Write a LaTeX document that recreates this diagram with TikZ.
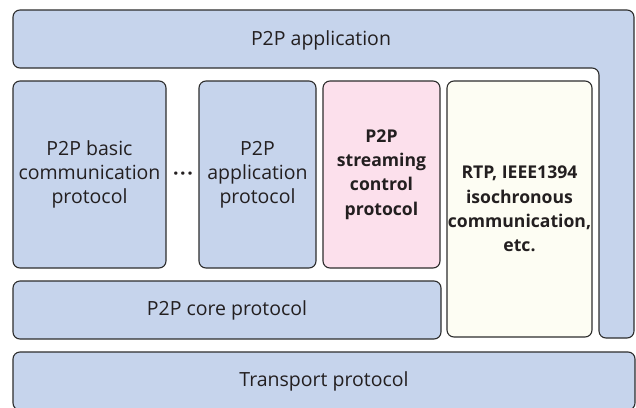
\documentclass[tikz,border=0pt]{standalone}
\usepackage{fontspec}
\setmainfont{Open Sans}
\usetikzlibrary{positioning}
\definecolor{layerblue}{RGB}{198,212,236}
\definecolor{layerpink}{RGB}{252,224,236}
\definecolor{layercream}{RGB}{253,253,243}
\definecolor{edgegray}{RGB}{45,45,45}
\definecolor{textgray}{RGB}{35,31,32}
\begin{document}
\begin{tikzpicture}[x=1pt, y=-1pt,
        layer/.style = {draw=edgegray, line width=1.1pt, rounded corners=7pt,
                        fill=layerblue, inner sep=0pt, align=center,
                        text=textgray, font=\fontsize{19.5}{24}\selectfont},
        label/.style = {inner sep=0pt, align=center, text=textgray,
                        font=\fontsize{19.5}{24}\selectfont},
        strong/.style = {font=\fontsize{17.6}{24.4}\selectfont\bfseries}
    ]
    \useasboundingbox (0,0) rectangle (636,407);
    \clip (0,0) rectangle (636,407);
    % application layer wraps round the protocols
    \draw[draw=edgegray, line width=1.1pt, rounded corners=7pt, fill=layerblue]
        (13,10) -- (634,10) -- (634,338) -- (599,338) -- (599,68) -- (13,68) -- cycle;
    \node[label] (app) at (321,40) {P2P application};
    \node[layer, minimum width=153pt, minimum height=187pt] (basic) at (89.5,174.5)
        {P2P basic\\communication\\protocol};
    \node[label, font=\fontsize{19.5}{24}\selectfont\bfseries] (dots) at (183,176)
        {·\kern1.5pt·\kern1.5pt·};
    \node[layer, minimum width=117pt, minimum height=187pt] (approto) at (257.5,174.5)
        {P2P\\application\\protocol};
    \node[layer, strong, fill=layerpink, minimum width=117pt, minimum height=187pt]
        (stream) at (381.5,174.5) {P2P\\streaming\\control\\protocol};
    \node[layer, strong, fill=layercream, minimum width=145pt, minimum height=256pt]
        (rtp) at (519.5,209) {RTP, IEEE1394\\isochronous\\communication,\\etc.};
    \node[layer, minimum width=428pt, minimum height=58pt] (core) at (227,310)
        {P2P core protocol};
    \node[layer, minimum width=622pt, minimum height=58pt] (transport) at (324,381)
        {Transport protocol};
\end{tikzpicture}
\end{document}
